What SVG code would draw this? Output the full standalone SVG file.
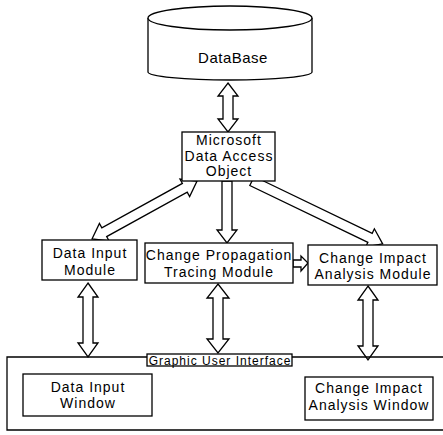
<svg xmlns="http://www.w3.org/2000/svg" width="443" height="435" viewBox="0 0 443 435">
<style>
.box{fill:#fff;stroke:#000;stroke-width:1.3}
.arr{fill:#fff;stroke:#000;stroke-width:1.3;stroke-linejoin:miter}
.t{font-family:"Liberation Sans",Arial,sans-serif;font-size:14px;letter-spacing:1px;text-anchor:middle;fill:#000}
.s{font-family:"Liberation Sans",Arial,sans-serif;font-size:12px;letter-spacing:1px;text-anchor:middle;fill:#000}
</style>
<rect width="443" height="435" fill="#fff"/>
<g id="connectors">
<polygon class="arr" points="228,83 238,96 233,96 233,119 238,119 228,132 218,119 223,119 223,96 218,96"/>
<polygon class="arr" points="222,181 232,181 232,230 237,230 227,243 217,230 222,230"/>
<polygon class="arr" transform="translate(92,239) rotate(-28.9)" points="0,0 14,-10 14,-5 106,-5 106,-10 120,0 106,10 106,5 14,5 14,10"/>
<polygon class="arr" transform="translate(252,181) rotate(25.7)" points="0,-5 131,-5 131,-10 145,0 131,10 131,5 0,5"/>
<polygon class="arr" points="293,260 301,260 301,256 308,263 301,271 301,267 293,267"/>
<polygon class="arr" points="88,283 98,297 93,297 93,343 98,343 88,357 78,343 83,343 83,297 78,297"/>
<polygon class="arr" points="218,284 229,298 223,298 223,339 229,339 218,353 207,339 213,339 213,298 207,298"/>
<polygon class="arr" points="368,286 378,300 373,300 373,346 378,346 368,360 358,346 363,346 363,300 358,300"/>
</g>
<g id="gui">
<path d="M443,357 L7,357 L7,430 L443,430" fill="none" stroke="#000" stroke-width="1.3"/>
<rect class="box" x="147" y="354" width="145" height="12"/>
<text class="s" x="220" y="365">Graphic User Interface</text>
</g>
<g id="database">
<path d="M148,18 L148,72 A82,8 0 0 0 312,72 L312,18" fill="#fff" stroke="#000" stroke-width="1.3"/>
<ellipse cx="230" cy="18" rx="82" ry="12" fill="#fff" stroke="#000" stroke-width="1.3"/>
<text class="t" x="233" y="63" style="font-size:15px;letter-spacing:0.5px">DataBase</text>
</g>
<g id="mdao">
<rect class="box" x="182" y="132" width="93" height="49"/>
<text class="t" x="229" y="145">Microsoft</text>
<text class="t" x="229" y="161">Data Access</text>
<text class="t" x="229" y="176">Object</text>
</g>
<g id="dim">
<rect class="box" x="42" y="240" width="95" height="40"/>
<text class="t" x="90" y="258">Data Input</text>
<text class="t" x="90" y="275">Module</text>
</g>
<g id="cptm">
<rect class="box" x="145" y="243" width="148" height="40"/>
<text class="t" x="219" y="260">Change Propagation</text>
<text class="t" x="219" y="277">Tracing Module</text>
</g>
<g id="ciam">
<rect class="box" x="308" y="245" width="129" height="40"/>
<text class="t" x="373" y="263">Change Impact</text>
<text class="t" x="373" y="279">Analysis Module</text>
</g>
<g id="diw">
<rect class="box" x="23" y="374" width="129" height="42"/>
<text class="t" x="88" y="392">Data Input</text>
<text class="t" x="88" y="408">Window</text>
</g>
<g id="ciaw">
<rect class="box" x="305" y="377" width="128" height="43"/>
<text class="t" x="369" y="393">Change Impact</text>
<text class="t" x="369" y="410">Analysis Window</text>
</g>
</svg>
